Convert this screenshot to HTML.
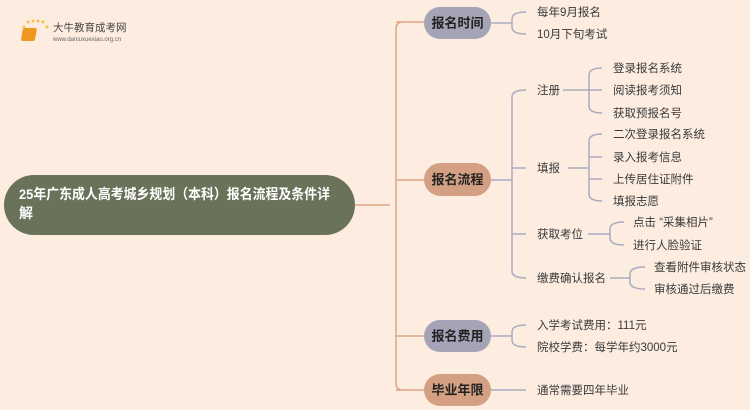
<!DOCTYPE html>
<html><head><meta charset="utf-8"><style>
html,body{margin:0;padding:0;background:#fdede1;}
svg{display:block;}
text{font-family:"Liberation Sans","Noto Sans CJK SC",sans-serif;}
.t{font-size:11.5px;fill:#3a3a3a;}
.c{font-size:13px;font-weight:bold;fill:#222;}
</style></head><body>
<svg width="750" height="410" viewBox="0 0 750 410" xmlns="http://www.w3.org/2000/svg">
<rect width="750" height="410" fill="#fdede1"/>
<g>
<circle cx="24" cy="27" r="1.5" fill="#f5c04a"/><circle cx="28" cy="22" r="1.5" fill="#f5c04a"/><circle cx="33" cy="21" r="1.5" fill="#f5c04a"/><circle cx="38" cy="21" r="1.5" fill="#f5c04a"/><circle cx="43" cy="22" r="1.5" fill="#f5c04a"/><circle cx="47" cy="27" r="1.5" fill="#f5c04a"/>
<rect x="28" y="28" width="14" height="13" rx="2" fill="#f0961e" transform="skewX(-10)"/>
<text x="53" y="31" style="font-size:10.5px;fill:#444;">大牛教育成考网</text>
<text x="53" y="41" style="font-size:6px;fill:#666;">www.daniuxuexiao.org.cn</text>
</g>
<g fill="none" stroke-width="1.5">
<path d="M355 205 H390 M403 22 Q396 22 396 29 V383 Q396 390 403 390 M396 22 H424 M396 180 H424 M396 336 H424 M396 390 H424" stroke="#dea587"/>
<g stroke="#a9abc0">
<path d="M491 23 H512 M526 12 Q512 12 512 19 V27 Q512 34 526 34"/>
<path d="M491 180 H512 M526 90 Q512 90 512 97 V271 Q512 278 526 278 M512 168 H526 M512 234 H526"/>
<path d="M563 90 H602 M602 68 Q589 68 589 75 V106 Q589 113 602 113"/>
<path d="M568 168 H589 M602 134 Q589 134 589 141 V194 Q589 201 602 201 M589 157 H602 M589 179 H602"/>
<path d="M588 234 H610 M624 222 Q610 222 610 229 V238 Q610 245 624 245"/>
<path d="M610 278 H630 M645 267 Q630 267 630 274 V282 Q630 289 645 289"/>
<path d="M491 336 H512 M526 325 Q512 325 512 332 V340 Q512 347 526 347"/>
<path d="M491 390 H526"/>
</g>
</g>
<rect x="4" y="175" width="351" height="60" rx="30" fill="#6a735a"/>
<text x="19" y="199" textLength="311" lengthAdjust="spacingAndGlyphs" style="font-size:14px;font-weight:bold;fill:#fff;">25年广东成人高考城乡规划（本科）报名流程及条件详</text>
<text x="19" y="218" style="font-size:14px;font-weight:bold;fill:#fff;">解</text>
<rect x="424" y="7" width="67" height="32" rx="16" fill="#a5a3b6"/><text x="457.5" y="27.5" text-anchor="middle" class="c">报名时间</text>
<rect x="424" y="163" width="67" height="33" rx="16.5" fill="#d3a083"/><text x="457.5" y="184" text-anchor="middle" class="c">报名流程</text>
<rect x="424" y="320" width="67" height="32" rx="16" fill="#a5a3b6"/><text x="457.5" y="340.5" text-anchor="middle" class="c">报名费用</text>
<rect x="424" y="374" width="67" height="32" rx="16" fill="#d3a083"/><text x="457.5" y="394.5" text-anchor="middle" class="c">毕业年限</text>
<g>
<text x="537" y="16" class="t">每年9月报名</text>
<text x="537" y="38" class="t">10月下旬考试</text>
<text x="537" y="94" class="t">注册</text>
<text x="537" y="172" class="t">填报</text>
<text x="537" y="238" class="t">获取考位</text>
<text x="537" y="282" class="t">缴费确认报名</text>
<text x="613" y="72" class="t">登录报名系统</text>
<text x="613" y="94" class="t">阅读报考须知</text>
<text x="613" y="117" class="t">获取预报名号</text>
<text x="613" y="138" class="t">二次登录报名系统</text>
<text x="613" y="161" class="t">录入报考信息</text>
<text x="613" y="183" class="t">上传居住证附件</text>
<text x="613" y="205" class="t">填报志愿</text>
<text x="633" y="226" class="t">点击 “采集相片”</text>
<text x="633" y="249" class="t">进行人脸验证</text>
<text x="654" y="271" class="t">查看附件审核状态</text>
<text x="654" y="293" class="t">审核通过后缴费</text>
<text x="537" y="329" class="t">入学考试费用：111元</text>
<text x="537" y="351" class="t">院校学费：每学年约3000元</text>
<text x="537" y="394" class="t">通常需要四年毕业</text>
</g>
</svg>
</body></html>
